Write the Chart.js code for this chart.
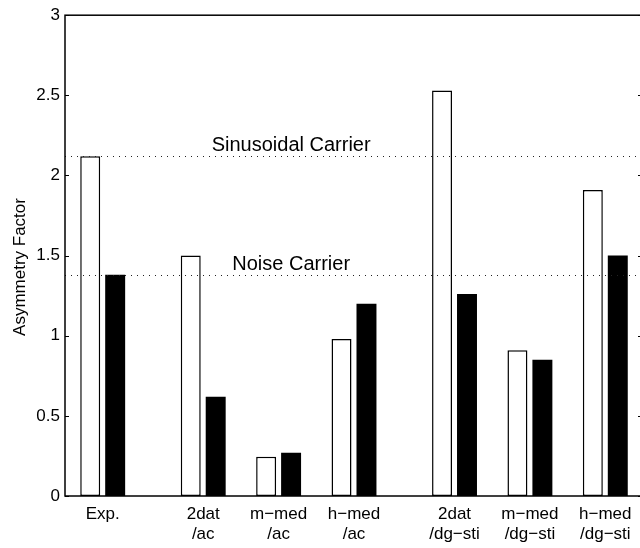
<!DOCTYPE html>
<html>
<head>
<meta charset="utf-8">
<script src="https://cdn.jsdelivr.net/npm/chart.js@4.4.1/dist/chart.umd.min.js"></script>
<style>
  html, body { margin: 0; padding: 0; background: #fff; overflow: hidden; }
  #wrap { position: relative; width: 660px; height: 548px; }
</style>
</head>
<body>
<div id="wrap"><canvas id="asym-chart"></canvas></div>
<script>
// groups on the x axis (in slot units, the gaps between blocks are wider)
const groupLabels = [
  ["Exp."],
  ["2dat", "/ac"],
  ["m\u2212med", "/ac"],
  ["h\u2212med", "/ac"],
  ["2dat", "/dg\u2212sti"],
  ["m\u2212med", "/dg\u2212sti"],
  ["h\u2212med", "/dg\u2212sti"],
];
const groupSlots = [0, 4, 7, 10, 14, 17, 20];
const openValues = [2.12, 1.5, 0.245, 0.98, 2.53, 0.91, 1.91];
const filledValues = [1.38, 0.62, 0.27, 1.2, 1.26, 0.85, 1.5];
const yTicks = [0, 0.5, 1, 1.5, 2, 2.5, 3];
const carrierLines = [
  { label: "Sinusoidal Carrier", value: 2.12 },
  { label: "Noise Carrier", value: 1.38 },
];

const FONT = "'Liberation Sans', Arial, Helvetica, sans-serif";

const chartEl = document.querySelector("#asym-chart");

function toPoints(values) {
  return values.map((v, i) => ({ x: groupSlots[i], y: v }));
}

const framePlugin = {
  id: "frame",
  afterDatasetsDraw(chart) {
    const { ctx, chartArea, scales } = chart;
    const { left, right, top, bottom } = chartArea;
    const yScale = scales.y;
    const xScale = scales.x;

    ctx.save();
    // dotted reference lines with labels
    ctx.strokeStyle = "#222";
    ctx.lineWidth = 1;
    ctx.setLineDash([1, 5]);
    carrierLines.forEach((ref) => {
      const y = Math.round(yScale.getPixelForValue(ref.value)) + 0.5;
      ctx.beginPath();
      ctx.moveTo(left, y);
      ctx.lineTo(right, y);
      ctx.stroke();
    });
    ctx.setLineDash([]);

    ctx.fillStyle = "#000";
    ctx.font = "20px " + FONT;
    ctx.textAlign = "center";
    ctx.textBaseline = "alphabetic";
    const labelX = xScale.getPixelForValue(7.5);
    carrierLines.forEach((ref) => {
      const y = yScale.getPixelForValue(ref.value);
      ctx.fillText(ref.label, labelX, y - 5);
    });

    // box and inward ticks
    ctx.strokeStyle = "#000";
    ctx.lineWidth = 1.5;
    ctx.strokeRect(left, top, right - left, bottom - top);
    ctx.lineWidth = 1;
    yTicks.forEach((t) => {
      const y = Math.round(yScale.getPixelForValue(t)) + 0.5;
      ctx.beginPath();
      ctx.moveTo(left, y);
      ctx.lineTo(left + 4, y);
      ctx.moveTo(right, y);
      ctx.lineTo(right - 5, y);
      ctx.stroke();
    });

    // y axis title
    ctx.font = "17px " + FONT;
    ctx.textBaseline = "middle";
    ctx.translate(20, 267);
    ctx.rotate(-Math.PI / 2);
    ctx.fillText("Asymmetry Factor", 0, 0);
    ctx.restore();
  },
};

new Chart(chartEl.getContext("2d"), {
  type: "bar",
  data: {
    datasets: [
      {
        label: "open",
        data: toPoints(openValues),
        backgroundColor: "#fff",
        borderColor: "#000",
        borderWidth: 1.5,
        borderSkipped: false,
      },
      {
        label: "filled",
        data: toPoints(filledValues),
        backgroundColor: "#000",
        borderWidth: 0,
      },
    ],
  },
  options: {
    responsive: true,
    maintainAspectRatio: false,
    animation: false,
    devicePixelRatio: 1,
    barPercentage: 0.8,
    categoryPercentage: 0.662,
    layout: { padding: { top: 15, right: 17, left: 0, bottom: 0 } },
    plugins: {
      legend: { display: false },
      tooltip: { enabled: false },
    },
    scales: {
      x: {
        type: "linear",
        offset: false,
        min: -1.5,
        max: 21.5,
        grid: { display: false, drawTicks: false, offset: false },
        border: { display: false },
        afterBuildTicks(scale) {
          scale.ticks = groupSlots.map((v) => ({ value: v }));
        },
        afterFit(scale) {
          scale.height = 52;
        },
        ticks: {
          autoSkip: false,
          maxRotation: 0,
          padding: 8,
          color: "#000",
          font: { family: FONT, size: 17, lineHeight: 1.18 },
          callback: (value) => {
            const idx = groupSlots.indexOf(value);
            return idx >= 0 ? groupLabels[idx] : "";
          },
        },
      },
      y: {
        min: 0,
        max: 3,
        grid: { display: false, drawTicks: false },
        border: { display: false },
        afterFit(scale) {
          scale.width = 65;
        },
        ticks: {
          stepSize: 0.5,
          padding: 5,
          color: "#000",
          font: { family: FONT, size: 17 },
          callback: (value) => String(value),
        },
      },
    },
  },
  plugins: [framePlugin],
});
</script>
</body>
</html>
